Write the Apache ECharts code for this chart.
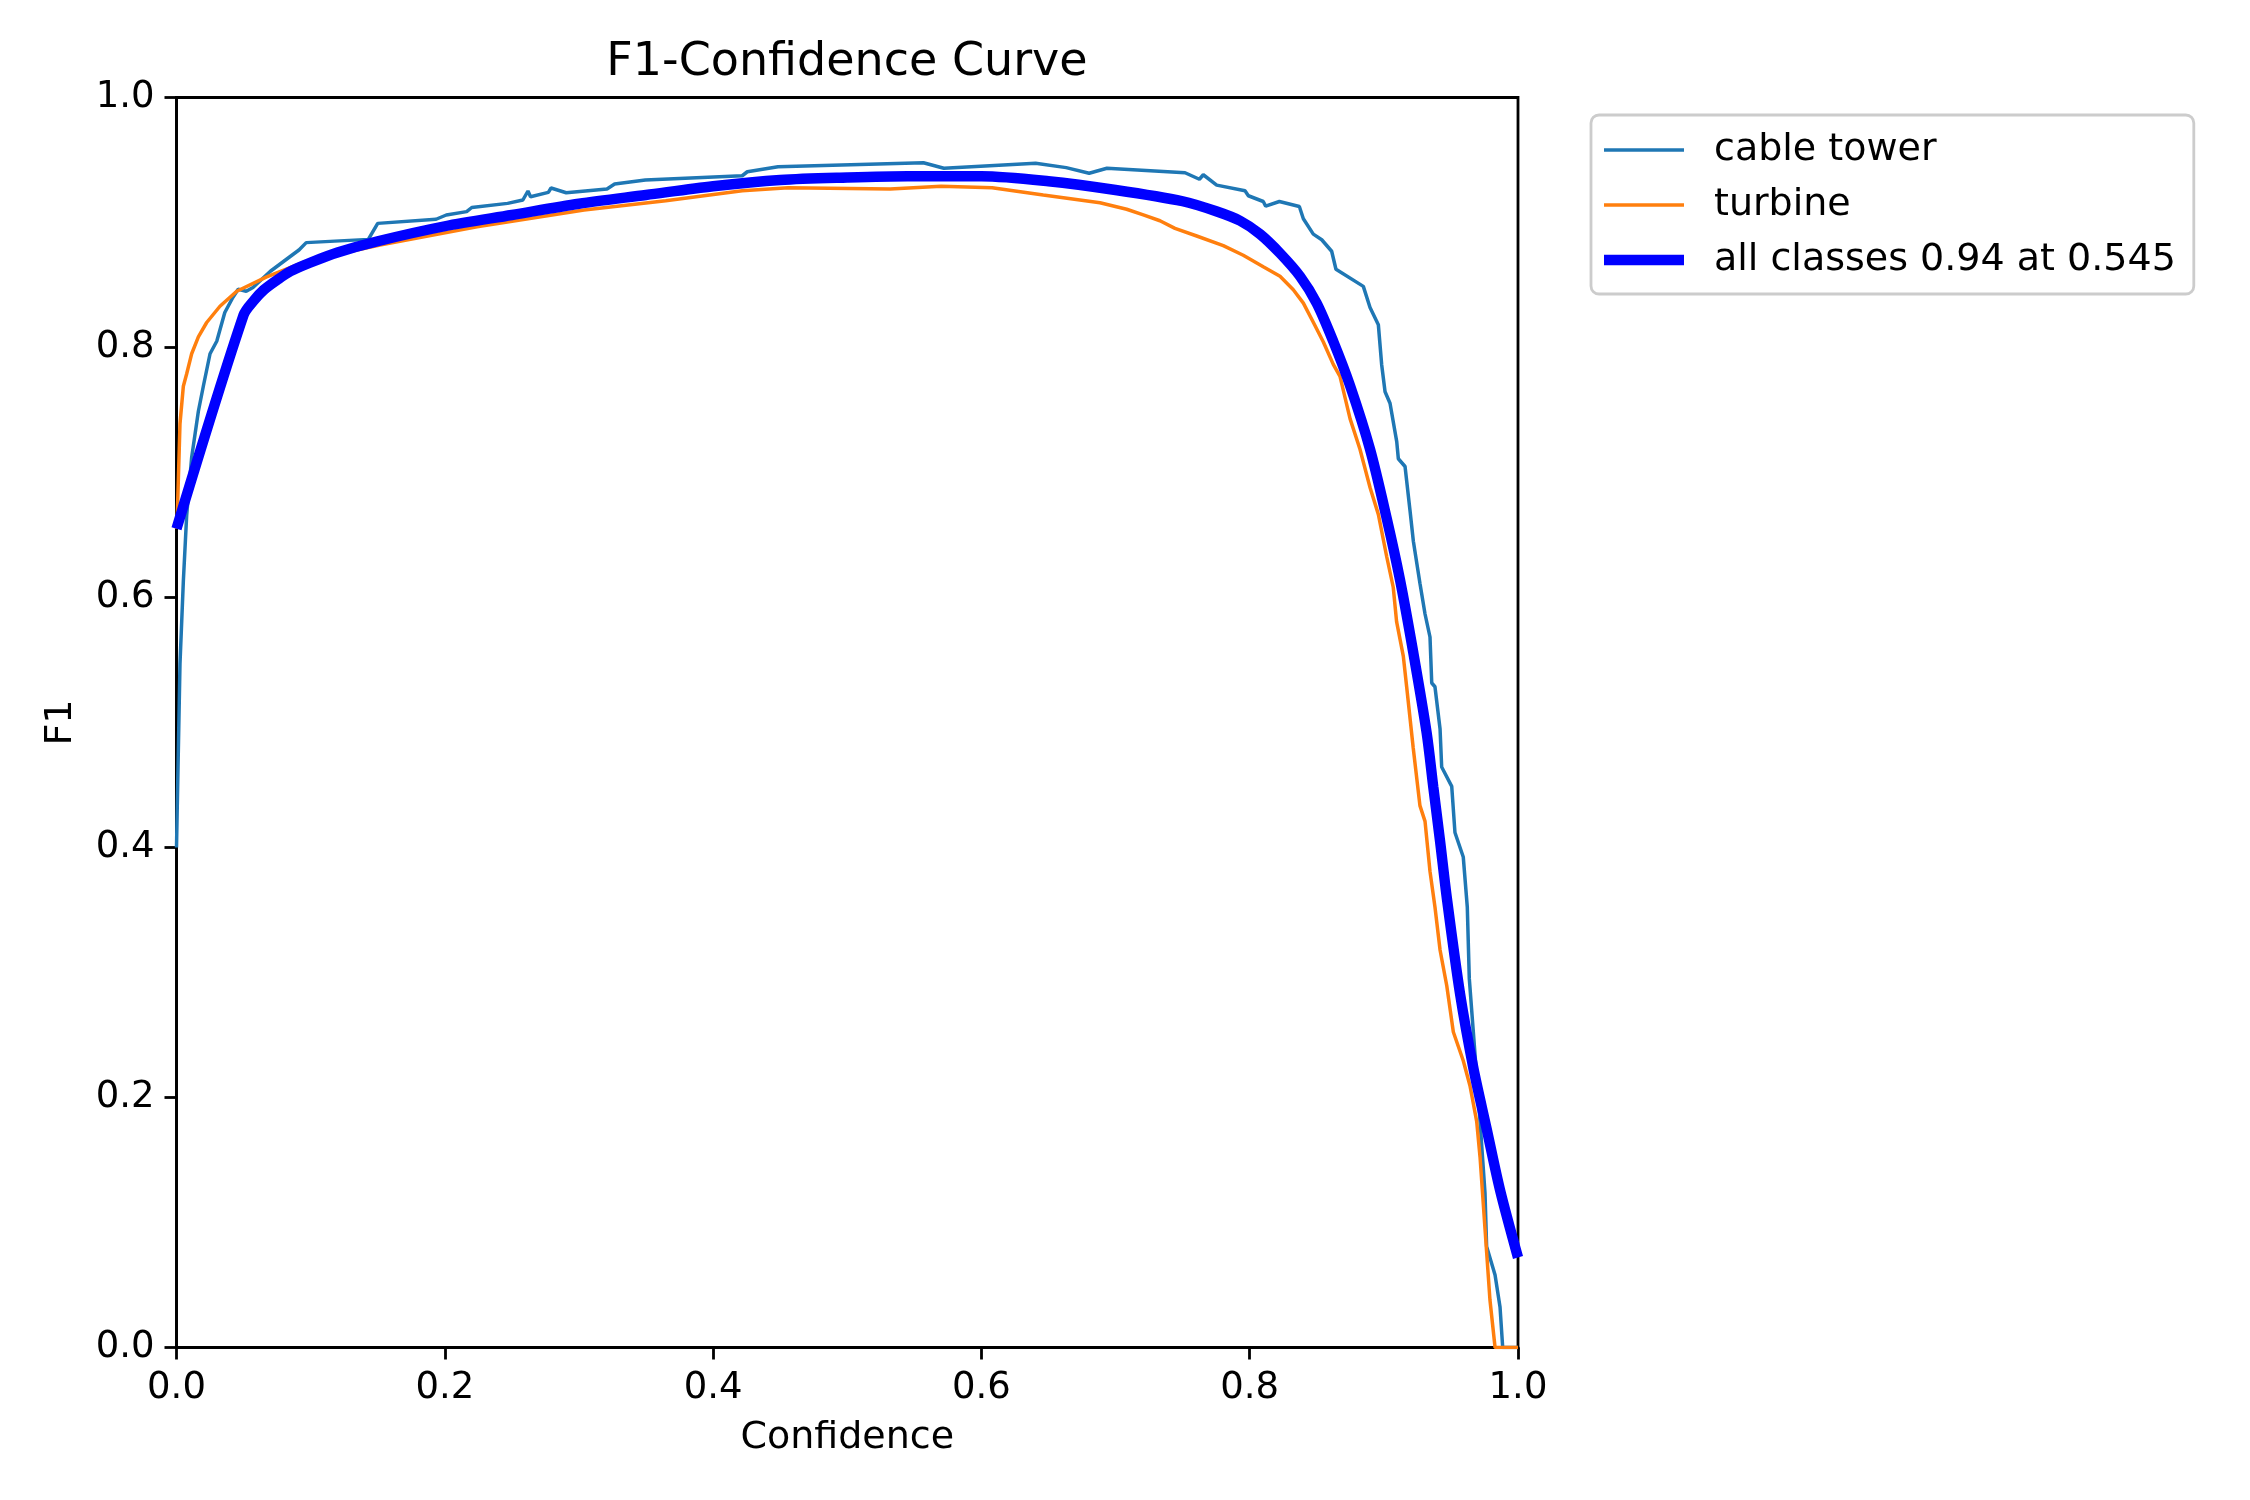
<!DOCTYPE html>
<html>
<head>
<meta charset="utf-8">
<script src="https://cdn.jsdelivr.net/npm/echarts@6/dist/echarts.min.js"></script>
<style>
html,body{margin:0;padding:0;background:#fff;}
#chart{width:2250px;height:1500px;}
</style>
</head>
<body>
<div id="chart"></div>
<script>
const titleText = 'F1-Confidence Curve';
const xName = 'Confidence';
const yName = 'F1';
const seriesNames = ['cable tower', 'turbine', 'all classes 0.94 at 0.545'];
const axisTicks = [0, 0.2, 0.4, 0.6, 0.8, 1.0];

const cableTower = [
[0,0.40],[0.0026,0.547],[0.0051,0.613],[0.0076,0.666],[0.0113,0.712],[0.0163,0.749],[0.02,0.769],[0.025,0.795],[0.03,0.805],[0.036,0.828],[0.042,0.840],[0.046,0.8466],[0.052,0.845],[0.057,0.848],[0.07,0.861],[0.085,0.873],[0.0913,0.878],[0.0967,0.8839],[0.143,0.8865],[0.150,0.8993],[0.1935,0.9026],[0.2011,0.906],[0.2163,0.9087],[0.2201,0.912],[0.2468,0.9153],[0.2582,0.918],[0.262,0.9252],[0.2639,0.9206],[0.2772,0.9241],[0.2792,0.9276],[0.2905,0.9238],[0.3209,0.9268],[0.3266,0.9308],[0.3495,0.934],[0.4217,0.9374],[0.4255,0.9406],[0.4484,0.9446],[0.5568,0.9478],[0.572,0.9434],[0.6404,0.9474],[0.6632,0.9439],[0.6803,0.9394],[0.6936,0.9434],[0.7518,0.9398],[0.7625,0.9346],[0.7654,0.9382],[0.7754,0.9299],[0.7965,0.9254],[0.799,0.9214],[0.8101,0.9168],[0.8119,0.9131],[0.8221,0.9168],[0.837,0.9128],[0.84,0.903],[0.8474,0.8907],[0.8537,0.8862],[0.8611,0.877],[0.8643,0.8626],[0.8847,0.8489],[0.8897,0.832],[0.8959,0.8182],[0.8984,0.786],[0.9009,0.7646],[0.9046,0.7554],[0.9096,0.7247],[0.9108,0.711],[0.9158,0.7048],[0.9195,0.6696],[0.922,0.645],[0.9269,0.6114],[0.9307,0.5868],[0.9344,0.5684],[0.9357,0.5316],[0.9381,0.5286],[0.9419,0.4948],[0.9431,0.4644],[0.9506,0.4489],[0.953,0.412],[0.9592,0.3924],[0.9622,0.3524],[0.9637,0.2951],[0.9667,0.2524],[0.9717,0.181],[0.9754,0.1237],[0.9766,0.0809],[0.9829,0.058],[0.9866,0.0324],[0.9886,0],[1.0,0]
];

const turbine = [
[0,0.655],[0.0006,0.666],[0.0026,0.739],[0.0051,0.769],[0.0076,0.779],[0.0113,0.795],[0.0163,0.8085],[0.0225,0.82],[0.0324,0.833],[0.0449,0.845],[0.0672,0.8565],[0.0945,0.868],[0.1343,0.878],[0.1517,0.882],[0.224,0.8966],[0.3038,0.91],[0.3647,0.9174],[0.4217,0.9254],[0.456,0.9278],[0.532,0.9268],[0.57,0.929],[0.608,0.9278],[0.6461,0.922],[0.6884,0.9158],[0.7083,0.9106],[0.7207,0.9061],[0.7331,0.9014],[0.7443,0.8953],[0.7605,0.8892],[0.7803,0.8815],[0.7952,0.8738],[0.8101,0.8646],[0.8226,0.857],[0.8325,0.8462],[0.84,0.8355],[0.8474,0.8202],[0.8549,0.8044],[0.8623,0.7865],[0.8673,0.7769],[0.8748,0.7431],[0.8822,0.7186],[0.8897,0.688],[0.8959,0.6665],[0.9021,0.6328],[0.907,0.6082],[0.9095,0.5807],[0.9145,0.5531],[0.917,0.5286],[0.9219,0.4796],[0.9269,0.4335],[0.9307,0.4209],[0.9344,0.3809],[0.9381,0.3524],[0.9419,0.318],[0.9469,0.2894],[0.9518,0.2524],[0.9592,0.2294],[0.9642,0.2094],[0.9692,0.1809],[0.9717,0.1524],[0.9754,0.0951],[0.9791,0.038],[0.9829,0],[1.0,0]
];

const allClasses = [
[0,0.655],[0.05,0.826],[0.058,0.838],[0.065,0.846],[0.075,0.854],[0.085,0.861],[0.1,0.868],[0.12,0.876],[0.15,0.885],[0.2,0.897],[0.25,0.906],[0.3,0.915],[0.35,0.922],[0.4,0.929],[0.45,0.934],[0.5,0.936],[0.545,0.937],[0.6,0.937],[0.65,0.933],[0.7,0.926],[0.75,0.917],[0.775,0.909],[0.7928,0.9014],[0.8077,0.8907],[0.8226,0.8754],[0.8375,0.857],[0.8499,0.8355],[0.8623,0.8049],[0.8748,0.7695],[0.8897,0.7186],[0.9021,0.6634],[0.912,0.6144],[0.9219,0.5562],[0.9319,0.4918],[0.9369,0.448],[0.9418,0.406],[0.9469,0.36],[0.9568,0.283],[0.9667,0.2237],[0.9766,0.1751],[0.9866,0.126],[1.0,0.072]
];

const FONT = 'DejaVu Sans';
const chart = echarts.init(document.getElementById('chart'), null, {renderer: 'canvas'});

const axisCommon = {
  type: 'value', min: axisTicks[0], max: axisTicks[axisTicks.length - 1], interval: 0.2,
  splitLine: {show: false},
  axisLine: {show: true, onZero: false, lineStyle: {color: '#000', width: 2.8}},
  axisTick: {show: true, inside: false, length: 12, lineStyle: {color: '#000', width: 2.8}},
  axisLabel: {color: '#000', fontSize: 37, fontFamily: FONT, margin: 22, formatter: v => v.toFixed(1)},
  nameLocation: 'middle',
  nameTextStyle: {color: '#000', fontSize: 38, fontFamily: FONT}
};

chart.setOption({
  backgroundColor: '#fff',
  animation: false,
  title: {
    text: titleText, left: 847, top: 40, textAlign: 'center', padding: 0,
    textStyle: {color: '#000', fontSize: 46, fontWeight: 'normal', fontFamily: FONT}
  },
  grid: {
    left: 176.5, right: 732, top: 97.5, bottom: 152.5,
    show: true, borderColor: '#000', borderWidth: 2.8, backgroundColor: 'transparent'
  },
  legend: {
    orient: 'vertical', left: 1591, top: 115,
    padding: [16, 18, 15, 13],
    itemWidth: 80, itemHeight: 38, itemGap: 17,
    symbolKeepAspect: true,
    borderColor: '#cccccc', borderWidth: 2.8, borderRadius: 8, backgroundColor: '#fff',
    textStyle: {color: '#000', fontSize: 38, lineHeight: 38, fontFamily: FONT, padding: [0, 0, 0, 25]},
    data: [
      {name: seriesNames[0], icon: 'path://M0,0H80V3.5H0Z'},
      {name: seriesNames[1], icon: 'path://M0,0H80V3.5H0Z'},
      {name: seriesNames[2], icon: 'path://M0,0H80V10.4H0Z'}
    ]
  },
  xAxis: Object.assign({}, axisCommon, {name: xName, nameGap: 72}),
  yAxis: Object.assign({}, axisCommon, {name: yName, nameGap: 96}),
  series: [
    {name: seriesNames[0], type: 'line', data: cableTower, showSymbol: false, symbol: 'none',
     color: '#1f77b4', lineStyle: {color: '#1f77b4', width: 3.5}},
    {name: seriesNames[1], type: 'line', data: turbine, showSymbol: false, symbol: 'none',
     color: '#ff7f0e', lineStyle: {color: '#ff7f0e', width: 3.5}},
    {name: seriesNames[2], type: 'line', data: allClasses, showSymbol: false, symbol: 'none', smooth: 0.3,
     color: '#0000ff', lineStyle: {color: '#0000ff', width: 10.4}}
  ]
});
</script>
</body>
</html>
